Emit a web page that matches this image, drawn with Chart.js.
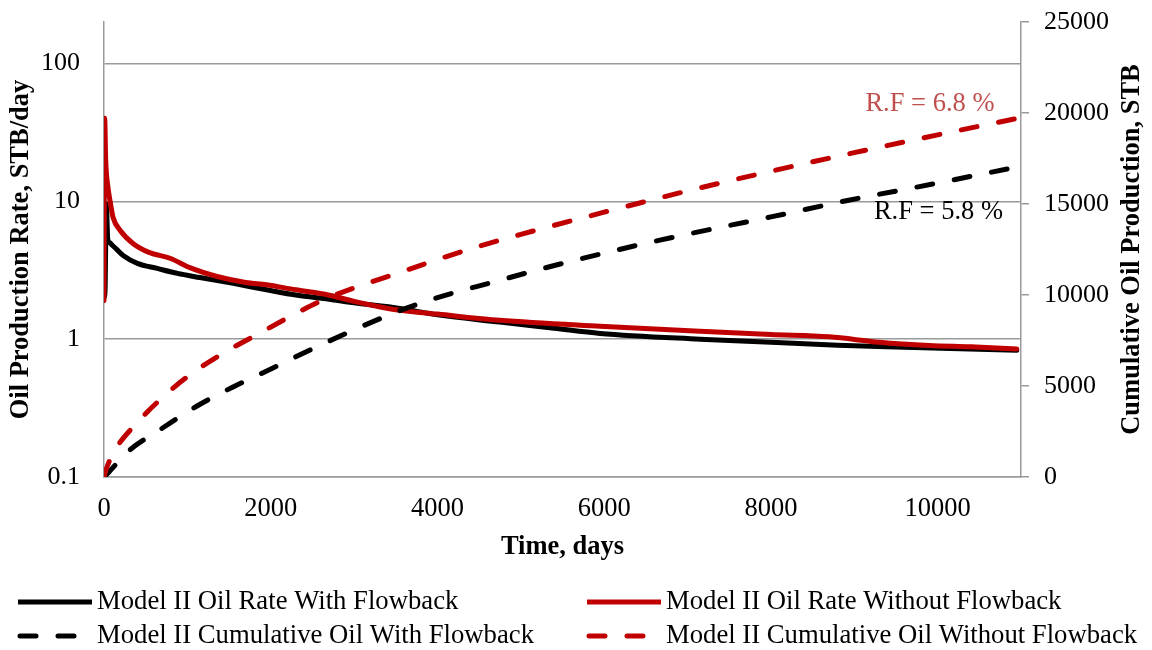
<!DOCTYPE html>
<html>
<head>
<meta charset="utf-8">
<script src="https://cdn.jsdelivr.net/npm/chart.js@4.4.1/dist/chart.umd.min.js"></script>
<style>
  html, body { margin: 0; padding: 0; background: #ffffff; }
  canvas { display: block; }
</style>
</head>
<body>
<canvas id="chart" width="1152" height="650"></canvas>
<script>
// Axis tick values
const dayTicks = [0, 2000, 4000, 6000, 8000, 10000];
const rateTicks = [0.1, 1, 10, 100];
const cumTicks = [0, 5000, 10000, 15000, 20000, 25000];

// Model II oil rate with flowback (STB/day)
const rateWithDays = [0, 12, 28, 45, 70, 100, 150, 230, 400, 640, 880, 1150, 1550, 1950, 2320, 2700, 2950, 3550, 4000, 4750, 5400, 5950, 7150, 8000, 8800, 9600, 10950];
const rateWith     = [2.0, 2.2, 9.6, 5.3, 5.0, 4.8, 4.5, 4.05, 3.55, 3.26, 3.0, 2.8, 2.54, 2.28, 2.08, 1.95, 1.85, 1.67, 1.5, 1.33, 1.2, 1.1, 1.0, 0.95, 0.905, 0.875, 0.83];

// Model II oil rate without flowback (STB/day)
const rateWithoutDays = [0, 8, 20, 45, 72, 110, 190, 348, 540, 800, 1030, 1356, 1700, 1950, 2300, 2650, 3000, 3300, 3550, 4000, 4750, 5950, 7150, 8000, 8700, 9300, 9900, 10400, 10950];
const rateWithout     = [1.9, 40, 20, 13, 10.1, 7.6, 6.2, 4.95, 4.26, 3.85, 3.3, 2.85, 2.58, 2.48, 2.28, 2.12, 1.88, 1.72, 1.62, 1.52, 1.37, 1.24, 1.14, 1.08, 1.04, 0.95, 0.9, 0.88, 0.85];

// Model II cumulative oil with flowback (STB)
const cumWithDays = [0, 60, 288, 672, 1116, 1548, 2027, 2471, 2915, 3311, 3671, 4187, 4631, 5110, 5566, 6046, 6514, 7500, 8000, 8949, 10000, 10950];
const cumWith     = [0, 280, 1400, 2600, 3900, 4946, 5990, 6979, 7913, 8700, 9350, 10111, 10660, 11265, 11814, 12350, 12858, 13820, 14290, 15221, 16150, 17035];

// Model II cumulative oil without flowback (STB)
const cumWithoutDays = [0, 36, 132, 348, 708, 996, 1392, 1871, 2267, 2627, 3635, 4055, 4511, 5000, 6000, 7000, 8000, 9000, 10000, 10950];
const cumWithout     = [0, 550, 1484, 2747, 4396, 5495, 6703, 7912, 8901, 9726, 11375, 12034, 12693, 13330, 14550, 15720, 16800, 17820, 18800, 19700];

// Recovery factor notes, placed in day / cumulative-oil coordinates
const rfNotes = [
  { text: 'R.F = 6.8 %', day: 9908, cum: 20495, color: '#C0504D' },
  { text: 'R.F = 5.8 %', day: 10010, cum: 14560, color: '#000000' }
];

const RED = '#C00000';
const GRID = '#9a9a9a';
const SERIF = '"Liberation Serif", "Times New Roman", serif';

const pts = (xs, ys) => xs.map((x, i) => ({ x: x, y: ys[i] }));
const fixTicks = (vals) => (scale) => { scale.ticks = vals.map(v => ({ value: v })); };
const noEdgePad = (s) => { s.paddingTop = 0; s.paddingBottom = 0; s.paddingLeft = 0; s.paddingRight = 0; };

// Custom two-column legend, recovery-factor notes and the right-hand axis title
const extras = {
  id: 'extras',
  afterDatasetsDraw(chart) {
    const { ctx, scales } = chart;
    ctx.save();
    ctx.font = '26.5px ' + SERIF;
    ctx.textAlign = 'center';
    ctx.textBaseline = 'middle';
    rfNotes.forEach(n => {
      ctx.fillStyle = n.color;
      ctx.fillText(n.text, scales.x.getPixelForValue(n.day), scales.y2.getPixelForValue(n.cum));
    });
    ctx.restore();
  },
  afterDraw(chart) {
    const { ctx, chartArea } = chart;
    ctx.save();
    // right axis title, reading upward
    ctx.font = 'bold 26.5px ' + SERIF;
    ctx.fillStyle = '#000';
    ctx.textAlign = 'center';
    ctx.textBaseline = 'middle';
    ctx.translate(1132, (chartArea.top + chartArea.bottom) / 2);
    ctx.rotate(-Math.PI / 2);
    ctx.fillText('Cumulative Oil Production, STB', 0, 0);
    ctx.restore();

    // legend
    const cols = [18, 587];
    const rows = [602, 636];
    ctx.save();
    ctx.font = '26.7px ' + SERIF;
    ctx.textBaseline = 'middle';
    ctx.textAlign = 'left';
    chart.data.datasets.forEach((ds, k) => {
      const x0 = cols[k % 2];
      const y = rows[Math.floor(k / 2)];
      ctx.beginPath();
      ctx.strokeStyle = ds.borderColor;
      ctx.lineWidth = 5;
      ctx.setLineDash(ds.borderDash || []);
      ctx.lineCap = ds.borderDash ? 'round' : 'butt';
      ctx.moveTo(x0 + (ds.borderDash ? 2 : 0), y);
      ctx.lineTo(x0 + 74, y);
      ctx.stroke();
      ctx.setLineDash([]);
      ctx.fillStyle = '#000';
      ctx.fillText(ds.label, x0 + 79, y);
    });
    ctx.restore();
  }
};

new Chart(document.getElementById('chart'), {
  type: 'line',
  data: {
    datasets: [
      {
        label: 'Model II Oil Rate With Flowback',
        data: pts(rateWithDays, rateWith),
        yAxisID: 'y', borderColor: '#000000', borderWidth: 5,
        pointRadius: 0, cubicInterpolationMode: 'monotone', order: 4,
        borderJoinStyle: 'round', borderCapStyle: 'round'
      },
      {
        label: 'Model II Oil Rate Without Flowback',
        data: pts(rateWithoutDays, rateWithout),
        yAxisID: 'y', borderColor: RED, borderWidth: 5,
        pointRadius: 0, cubicInterpolationMode: 'monotone', order: 3,
        borderJoinStyle: 'round', borderCapStyle: 'round'
      },
      {
        label: 'Model II Cumulative Oil With Flowback',
        data: pts(cumWithDays, cumWith),
        yAxisID: 'y2', borderColor: '#000000', borderWidth: 5,
        borderDash: [16, 22], borderCapStyle: 'round',
        pointRadius: 0, cubicInterpolationMode: 'monotone', order: 2
      },
      {
        label: 'Model II Cumulative Oil Without Flowback',
        data: pts(cumWithoutDays, cumWithout),
        yAxisID: 'y2', borderColor: RED, borderWidth: 5,
        borderDash: [16, 22], borderCapStyle: 'round',
        pointRadius: 0, cubicInterpolationMode: 'monotone', order: 1
      }
    ]
  },
  options: {
    responsive: false,
    animation: false,
    events: [],
    layout: { padding: { top: 22, bottom: 80, left: 0, right: 0 } },
    plugins: { legend: { display: false }, tooltip: { enabled: false } },
    scales: {
      x: {
        type: 'linear', min: 0, max: 11000,
        afterBuildTicks: fixTicks(dayTicks),
        afterFit: (s) => { s.height = 93; noEdgePad(s); },
        grid: { display: false, drawTicks: false },
        border: { display: true, color: GRID, width: 1.5 },
        ticks: {
          padding: 16, color: '#000', maxRotation: 0, autoSkip: false,
          font: { family: SERIF, size: 26.5 },
          callback: (v) => String(v)
        },
        title: {
          display: true, text: 'Time, days', color: '#000',
          font: { family: SERIF, size: 26.5, weight: 'bold' },
          padding: { top: 0, bottom: 7 }
        }
      },
      y: {
        type: 'logarithmic', position: 'left', min: 0.1, max: 200,
        afterBuildTicks: fixTicks(rateTicks),
        afterFit: (s) => { s.width = 104; noEdgePad(s); },
        grid: { display: true, color: GRID, lineWidth: 1.5, drawTicks: false },
        border: { display: true, color: GRID, width: 1.5 },
        ticks: {
          padding: 24, color: '#000', autoSkip: false,
          font: { family: SERIF, size: 26 },
          callback: (v) => String(v)
        },
        title: {
          display: true, text: 'Oil Production Rate, STB/day', color: '#000',
          font: { family: SERIF, size: 26.5, weight: 'bold' },
          padding: { top: 5, bottom: 0 }
        }
      },
      y2: {
        type: 'linear', position: 'right', min: 0, max: 25000,
        afterBuildTicks: fixTicks(cumTicks),
        afterFit: (s) => { s.width = 131; noEdgePad(s); },
        grid: { display: true, drawOnChartArea: false, drawTicks: true, tickLength: 8, color: GRID, lineWidth: 1.5 },
        border: { display: true, color: GRID, width: 1.5 },
        ticks: {
          padding: 15, color: '#000', autoSkip: false,
          font: { family: SERIF, size: 26 },
          callback: (v) => String(v)
        }
      }
    }
  },
  plugins: [extras]
});
</script>
</body>
</html>
